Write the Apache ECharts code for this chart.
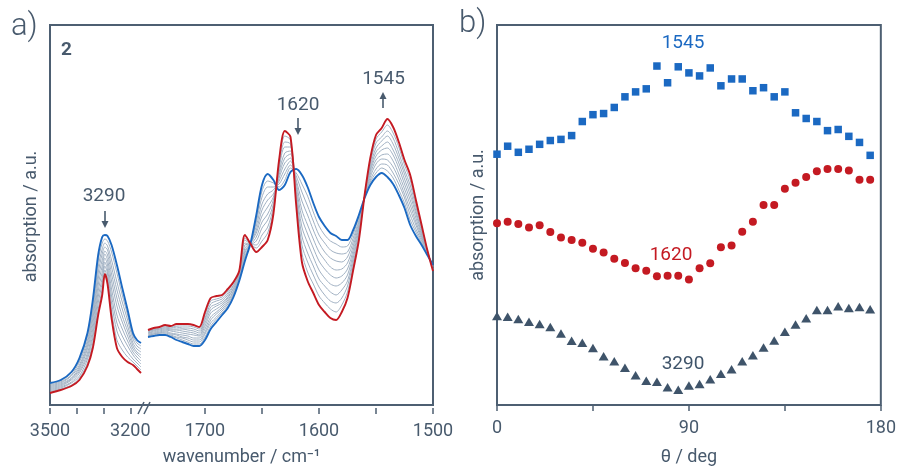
<!DOCTYPE html>
<html><head><meta charset="utf-8">
<script src="https://cdn.jsdelivr.net/npm/echarts@6/dist/echarts.min.js"></script>
<style>html,body{margin:0;padding:0;background:#fff}#c{width:899px;height:471px}</style>
</head><body><div id="c"></div>
<script>
// ---------- panel a: FTIR spectra (absorption in arbitrary units) ----------
const wnLeft = [3500,3460,3420,3390,3360,3340,3320,3305,3295,3285,3270,3250,3230,3210,3190,3175,3160];
const wnRight = [1750,1745,1740,1735,1730,1725,1720,1715,1710,1705,
                 1700,1695,1690,1685,1680,1675,1670,1665,1660,1655,
                 1650,1645,1640,1635,1630,1625,1620,1615,1610,1605,
                 1600,1595,1590,1585,1580,1575,1570,1565,1560,1555,
                 1550,1545,1540,1535,1530,1525,1520,1515,1510,1505,1500];

const redLeft  = [15,18,22,28,42,60,93,113,134,124,90,60,51,46,43,39,35];
const blueLeft = [25,28,36,50,75,108,153,171,173,172,163,143,120,98,75,68,65];

const redRight  = [78,80,81,83,82,84,84,84,83,81, 96,110,112,113,119,126,137,173,164,156,
                   161,168,194,248,277,271,203,146,127,115, 103,96,90,88,96,110,138,168,213,250,
                   273,280,289,281,266,248,233,208,183,158, 137];
const blueRight = [71,72,73,73,71,68,66,64,62,62, 68,79,86,93,100,111,127,147,165,193,
                   223,234,228,218,223,236,239,233,221,205, 191,182,175,172,168,168,178,193,210,223,
                   231,235,231,224,213,200,183,172,163,153, 143];

const grayLeft = [
  [16,19,23,30,45,65,99,119,138,129,97,68,58,51,46,42,38],
  [17,20,25,32,49,70,105,125,142,134,105,77,65,56,49,45,41],
  [18,21,26,35,52,74,111,130,146,138,112,85,72,62,53,48,44],
  [19,22,28,37,55,79,117,136,150,143,119,93,79,67,56,51,47],
  [20,23,29,39,59,84,123,142,154,148,127,102,86,72,59,54,50],
  [21,24,30,41,62,89,129,148,157,153,134,110,92,77,62,56,53],
  [22,25,32,43,65,94,135,154,161,158,141,118,99,82,65,59,56],
  [23,26,33,46,68,98,141,159,165,162,148,126,106,88,69,62,59],
  [24,27,35,48,72,103,147,165,169,167,156,135,113,93,72,65,62]
];
const grayRight = [
  [77,79,80,82,81,82,82,82,81,79,93,107,109,111,117,125,136,170,164,160,167,175,197,245,272,268,207,155,136,124,112,105,99,96,103,116,142,171,213,247,269,276,283,275,261,243,228,204,181,158,138],
  [77,78,79,81,80,81,80,80,79,77,90,104,107,109,115,123,135,168,164,163,173,181,201,242,266,264,210,163,146,133,121,113,107,105,110,122,146,173,212,245,265,271,277,270,255,238,223,201,179,157,138],
  [76,78,79,80,79,79,79,78,77,75,88,101,104,107,113,122,134,165,164,167,180,188,204,239,261,261,214,172,155,142,129,122,116,113,118,127,150,176,212,242,260,267,272,264,250,234,218,197,177,157,139],
  [75,77,78,79,78,78,77,76,75,73,85,98,102,105,111,120,133,163,164,171,186,194,208,236,255,257,217,181,165,151,138,130,124,122,125,133,154,178,212,239,256,262,266,258,245,229,213,194,175,156,139],
  [75,76,77,78,77,76,75,74,73,72,82,95,99,103,110,119,132,160,165,175,192,201,211,233,250,254,221,190,174,160,147,139,133,130,132,139,158,181,212,237,252,258,260,253,240,224,208,190,173,156,140],
  [74,75,76,77,75,74,73,72,70,70,79,91,96,101,108,117,131,157,165,178,198,208,214,230,245,250,225,198,183,169,156,148,141,138,139,145,162,183,211,234,248,253,254,247,234,219,203,186,171,155,141],
  [73,74,75,76,74,73,71,70,68,68,76,88,94,99,106,116,130,155,165,182,204,214,218,227,239,247,228,207,193,178,165,156,150,147,146,151,166,186,211,231,244,249,248,241,229,214,198,183,169,155,141],
  [72,74,75,75,73,71,70,68,66,66,74,85,91,97,104,114,129,152,165,186,211,221,221,224,234,243,232,216,202,187,173,165,158,155,154,156,170,188,211,228,239,244,243,235,224,210,193,179,167,154,142],
  [72,73,74,74,72,70,68,66,64,64,71,82,89,95,102,113,128,150,165,189,217,227,225,221,228,240,235,224,212,196,182,173,167,164,161,162,174,191,210,226,235,240,237,230,218,205,188,176,165,154,142]
];
const ticksLeft = [3500,3400,3300,3200];
const labelsLeft = [3500,3200];
const ticksRight = [1700,1650,1600,1550,1500];
const labelsRight = [1700,1600,1500];

// ---------- panel b: band intensity vs polarizer angle ----------
const theta = [0,5,10,15,20,25,30,35,40,45,50,55,60,65,70,75,80,85,90,95,100,105,110,115,120,125,130,135,140,145,150,155,160,165,170,175];
const band1545 = [66.0,68.1,66.5,67.3,68.6,69.6,69.9,70.9,74.6,76.4,76.7,78.3,81.1,82.4,83.2,89.2,84.8,89.0,87.4,86.6,88.7,84.0,85.8,85.8,82.7,83.5,81.1,82.4,76.9,75.4,74.6,72.2,72.5,70.7,69.1,65.7];
const band1620 = [47.8,48.2,47.6,46.7,47.3,45.5,44.1,43.4,42.7,41.1,40.1,38.5,37.4,36.0,35.3,33.9,34.0,34.0,33.0,36.0,37.3,41.5,42.0,45.6,48.2,52.6,52.6,56.9,58.5,60.0,61.5,62.1,62.1,61.7,59.3,59.3];
const band3290 = [23.4,23.2,22.6,21.9,21.3,20.5,18.8,16.9,16.4,15.0,12.8,11.5,9.8,7.8,6.4,6.1,4.7,4.0,5.1,5.5,6.8,8.2,9.4,11.5,13.1,15.1,17.0,19.3,21.2,22.8,25.0,25.0,26.0,25.5,25.8,25.2];
const ticksTheta = 45;

// ---------- styling ----------
const FONT = "Roboto,'Liberation Sans',sans-serif";
const INK = '#485a6d';
const FRAME = '#4d5f72';
const RED = '#c41a22';
const BLUE = '#1b69c2';
const GRAY = '#a0b0c2';
const DARK = '#3f546a';

const zip = (xs, ys) => xs.map((x, i) => [x, ys[i]]);
const series = [];
grayLeft.forEach(g => series.push({type:'line', xAxisIndex:0, yAxisIndex:0, data:zip(wnLeft,g), symbol:'none', smooth:0.3, lineStyle:{color:GRAY, width:1}}));
grayRight.forEach(g => series.push({type:'line', xAxisIndex:1, yAxisIndex:1, data:zip(wnRight,g), symbol:'none', smooth:0.3, lineStyle:{color:GRAY, width:1}}));
[[wnLeft, blueLeft, 0, BLUE],[wnLeft, redLeft, 0, RED],[wnRight, blueRight, 1, BLUE],[wnRight, redRight, 1, RED]].forEach(([x,y,ax,c]) =>
  series.push({type:'line', xAxisIndex:ax, yAxisIndex:ax, data:zip(x,y), symbol:'none', smooth:0.3, lineStyle:{color:c, width:1.9}, z:3}));
series.push({type:'scatter', xAxisIndex:3, yAxisIndex:3, data:zip(theta,band1545), symbol:'rect', symbolSize:7.5, itemStyle:{color:BLUE, opacity:1}});
series.push({type:'scatter', xAxisIndex:3, yAxisIndex:3, data:zip(theta,band1620), symbol:'circle', symbolSize:8, itemStyle:{color:RED, opacity:1}});
series.push({type:'scatter', xAxisIndex:3, yAxisIndex:3, data:zip(theta,band3290), symbol:'triangle', symbolSize:[10,8.5], itemStyle:{color:DARK, opacity:1}});

const hiddenY = {axisLine:{show:false}, axisTick:{show:false}, axisLabel:{show:false}, splitLine:{show:false}};
const nameStyle = {color:INK, fontSize:18, fontFamily:FONT};
const tickStyle = {show:true, inside:false, length:6, lineStyle:{color:FRAME, width:1.5}};
const labelStyle = {color:INK, fontSize:18, fontFamily:FONT, margin:14, formatter:v => String(v)};

const option = {
  animation:false,
  textStyle:{fontFamily:FONT},
  grid:[
    {left:50, top:25, width:91, height:383},
    {left:148, top:25, width:285, height:383},
    {left:50, top:25, width:383, height:383, show:true, borderColor:FRAME, borderWidth:2, backgroundColor:'transparent'},
    {left:497, top:25, width:385, height:383, show:true, borderColor:FRAME, borderWidth:2, backgroundColor:'transparent'}
  ],
  xAxis:[
    {gridIndex:0, type:'value', min:3160, max:3500, inverse:true, axisLine:{show:false}, splitLine:{show:false},
     axisTick:Object.assign({customValues:ticksLeft}, tickStyle), axisLabel:Object.assign({}, labelStyle, {customValues:labelsLeft})},
    {gridIndex:1, type:'value', min:1500, max:1750, inverse:true, axisLine:{show:false}, splitLine:{show:false},
     axisTick:Object.assign({customValues:ticksRight}, tickStyle), axisLabel:Object.assign({}, labelStyle, {customValues:labelsRight})},
    {gridIndex:2, type:'value', min:0, max:1, axisLine:{show:false}, axisTick:{show:false}, axisLabel:{show:false}, splitLine:{show:false},
     name:'wavenumber / cm⁻¹', nameLocation:'middle', nameGap:43, nameTextStyle:nameStyle},
    {gridIndex:3, type:'value', min:0, max:180, interval:ticksTheta, axisLine:{show:false}, splitLine:{show:false},
     axisTick:tickStyle, axisLabel:Object.assign({}, labelStyle, {formatter:v => (v % 90 === 0 ? String(v) : '')}),
     name:'θ / deg', nameLocation:'middle', nameGap:43, nameTextStyle:nameStyle}
  ],
  yAxis:[
    Object.assign({gridIndex:0, type:'value', min:0, max:383, name:'absorption / a.u.', nameLocation:'middle', nameGap:10, nameTextStyle:nameStyle}, hiddenY),
    Object.assign({gridIndex:1, type:'value', min:0, max:383}, hiddenY),
    Object.assign({gridIndex:2, type:'value', min:0, max:1}, hiddenY),
    Object.assign({gridIndex:3, type:'value', min:0, max:100, name:'absorption / a.u.', nameLocation:'middle', nameGap:10, nameTextStyle:nameStyle}, hiddenY)
  ],
  series:series,
  graphic:[
    {type:'text', left:11, top:12, style:{text:'a)', fill:INK, font:'300 31px '+FONT}},
    {type:'text', left:459, top:9, style:{text:'b)', fill:INK, font:'300 31px '+FONT}},
    {type:'text', x:61, y:41, style:{text:'2', fill:INK, font:'bold 19px '+FONT}},
    // annotations panel a
    {type:'text', x:104, y:196, style:{text:'3290', fill:INK, font:'19px '+FONT, align:'center', verticalAlign:'middle'}},
    {type:'line', shape:{x1:105, y1:211, x2:105, y2:222}, style:{stroke:INK, lineWidth:1.6}},
    {type:'polygon', shape:{points:[[101.5,221],[108.5,221],[105,228]]}, style:{fill:INK}},
    {type:'text', x:298, y:105, style:{text:'1620', fill:INK, font:'19px '+FONT, align:'center', verticalAlign:'middle'}},
    {type:'line', shape:{x1:298, y1:118, x2:298, y2:129}, style:{stroke:INK, lineWidth:1.6}},
    {type:'polygon', shape:{points:[[294.5,128],[301.5,128],[298,135]]}, style:{fill:INK}},
    {type:'text', x:383.5, y:79, style:{text:'1545', fill:INK, font:'19px '+FONT, align:'center', verticalAlign:'middle'}},
    {type:'line', shape:{x1:383, y1:98, x2:383, y2:108}, style:{stroke:INK, lineWidth:1.6}},
    {type:'polygon', shape:{points:[[379.5,99],[386.5,99],[383,92]]}, style:{fill:INK}},
    // axis break marks
    {type:'line', shape:{x1:138, y1:414, x2:144, y2:402}, style:{stroke:FRAME, lineWidth:1.5}},
    {type:'line', shape:{x1:144, y1:414, x2:150, y2:402}, style:{stroke:FRAME, lineWidth:1.5}},
    // annotations panel b
    {type:'text', x:683, y:43, style:{text:'1545', fill:BLUE, font:'19px '+FONT, align:'center', verticalAlign:'middle'}},
    {type:'text', x:671, y:255, style:{text:'1620', fill:RED, font:'19px '+FONT, align:'center', verticalAlign:'middle'}},
    {type:'text', x:683, y:364, style:{text:'3290', fill:DARK, font:'19px '+FONT, align:'center', verticalAlign:'middle'}}
  ]
};
echarts.init(document.getElementById('c'), null, {renderer:'canvas'}).setOption(option);
</script>
</body></html>
